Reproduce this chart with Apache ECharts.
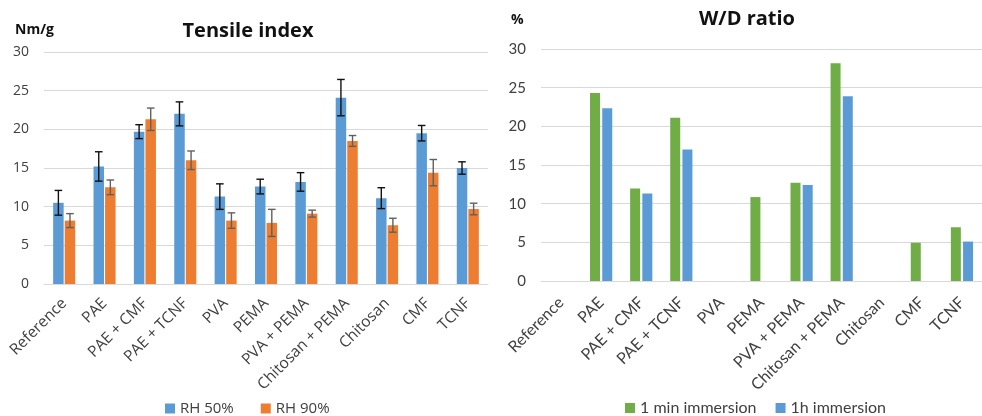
<!DOCTYPE html>
<html>
<head>
<meta charset="utf-8">
<script src="https://cdn.jsdelivr.net/npm/echarts@6/dist/echarts.min.js"></script>
<style>
html,body{margin:0;padding:0;background:#fff;}
#main{width:982px;height:416px;}
</style>
</head>
<body>
<div id="main"></div>
<script>
// ---- data ----
var categories = ['Reference','PAE','PAE + CMF','PAE + TCNF','PVA','PEMA','PVA + PEMA','Chitosan + PEMA','Chitosan','CMF','TCNF'];
var rh50 = [10.5, 15.2, 19.7, 22.0, 11.3, 12.6, 13.2, 24.1, 11.1, 19.5, 15.0];
var rh50Err = [1.6, 1.9, 0.9, 1.55, 1.65, 0.95, 1.2, 2.35, 1.35, 1.0, 0.8];
var rh90 = [8.2, 12.5, 21.3, 16.0, 8.2, 7.9, 9.1, 18.5, 7.6, 14.4, 9.7];
var rh90Err = [0.9, 0.95, 1.45, 1.2, 1.0, 1.75, 0.45, 0.7, 0.9, 1.7, 0.75];
var min1 = [null, 24.3, 11.95, 21.1, null, 10.85, 12.7, 28.15, null, 4.95, 6.95];
var h1 = [null, 22.35, 11.3, 17.0, null, null, 12.4, 23.9, null, null, 5.1];
var yTicks = [0, 5, 10, 15, 20, 25, 30];

var chart = echarts.init(document.getElementById('main'));

function errItem(offset, color) {
  return function (params, api) {
    var x = api.value(0), v = api.value(1), e = api.value(2);
    var top = api.coord([x, v + e]);
    var bot = api.coord([x, v - e]);
    var cx = top[0] + offset;
    var cap = 3.8;
    var st = {stroke: color, lineWidth: 1.4};
    return {
      type: 'group',
      children: [
        {type: 'line', shape: {x1: cx, y1: top[1], x2: cx, y2: bot[1]}, style: st},
        {type: 'line', shape: {x1: cx - cap, y1: top[1], x2: cx + cap, y2: top[1]}, style: st},
        {type: 'line', shape: {x1: cx - cap, y1: bot[1], x2: cx + cap, y2: bot[1]}, style: st}
      ]
    };
  };
}

var labelColor = '#404040';
var gridColor = '#d9d9d9';

function yAxisOpt(idx, font, size) {
  return {
    type: 'value', gridIndex: idx, min: yTicks[0], max: yTicks[yTicks.length - 1], interval: yTicks[1] - yTicks[0],
    axisLine: {show: false}, axisTick: {show: false},
    axisLabel: {color: labelColor, fontFamily: font, fontSize: size, margin: 15},
    splitLine: {lineStyle: {color: gridColor, width: 1}}
  };
}
function xAxisOpt(idx, font, size, margin) {
  return {
    type: 'category', gridIndex: idx, data: categories,
    axisLine: {lineStyle: {color: gridColor, width: 1}}, axisTick: {show: false},
    axisLabel: {interval: 0, rotate: 45, color: labelColor, fontFamily: font, fontSize: size, margin: margin}
  };
}

var option = {
  animation: false,
  backgroundColor: '#fff',
  title: [
    {text: 'Tensile index', left: 248, top: 21, textAlign: 'center', padding: 0,
     textStyle: {fontFamily: 'Open Sans', fontWeight: 'bold', fontSize: 20, color: '#111'}},
    {text: 'W/D ratio', left: 747, top: 9, textAlign: 'center', padding: 0,
     textStyle: {fontFamily: 'Open Sans', fontWeight: 'bold', fontSize: 20, color: '#111'}}
  ],
  graphic: [
    {type: 'text', left: 15, top: 23, style: {text: 'Nm/g', font: 'bold 14px "Open Sans"', fill: '#111'}},
    {type: 'text', left: 511, top: 13, style: {text: '%', font: 'bold 14px "Open Sans"', fill: '#111'}}
  ],
  legend: [
    {data: ['RH 50%', 'RH 90%'], left: 160, top: 396, itemWidth: 10, itemHeight: 10, itemGap: 27, icon: 'rect',
     textStyle: {fontFamily: 'Open Sans', fontSize: 15, color: labelColor}},
    {data: ['1 min immersion', '1h immersion'], left: 620, top: 395, itemWidth: 10, itemHeight: 10, itemGap: 19, icon: 'rect',
     textStyle: {fontFamily: 'Lato', fontSize: 16, color: labelColor}}
  ],
  grid: [
    {left: 44, top: 52, width: 444, height: 232},
    {left: 541, top: 49, width: 451, height: 232}
  ],
  xAxis: [xAxisOpt(0, 'Open Sans', 15.5, 17), xAxisOpt(1, 'Lato', 16, 19)],
  yAxis: [yAxisOpt(0, 'Open Sans', 14), yAxisOpt(1, 'Lato', 15)],
  series: [
    {name: 'RH 50%', type: 'bar', xAxisIndex: 0, yAxisIndex: 0, data: rh50, barWidth: 10.5, barGap: '10%',
     itemStyle: {color: '#5B9BD5'}},
    {name: 'RH 90%', type: 'bar', xAxisIndex: 0, yAxisIndex: 0, data: rh90, barWidth: 10.5, barGap: '10%',
     itemStyle: {color: '#ED7D31'}},
    {name: 'err50', type: 'custom', xAxisIndex: 0, yAxisIndex: 0, renderItem: errItem(-5.8, '#111'), z: 10,
     data: categories.map(function (c, i) { return [i, rh50[i], rh50Err[i]]; })},
    {name: 'err90', type: 'custom', xAxisIndex: 0, yAxisIndex: 0, renderItem: errItem(5.8, '#606060'), z: 10,
     data: categories.map(function (c, i) { return [i, rh90[i], rh90Err[i]]; })},
    {name: '1 min immersion', type: 'bar', xAxisIndex: 1, yAxisIndex: 1, data: min1, barWidth: 10, barGap: '22%',
     itemStyle: {color: '#70AD47'}},
    {name: '1h immersion', type: 'bar', xAxisIndex: 1, yAxisIndex: 1, data: h1, barWidth: 10, barGap: '22%',
     itemStyle: {color: '#5B9BD5'}}
  ]
};
chart.setOption(option);
</script>
</body>
</html>
